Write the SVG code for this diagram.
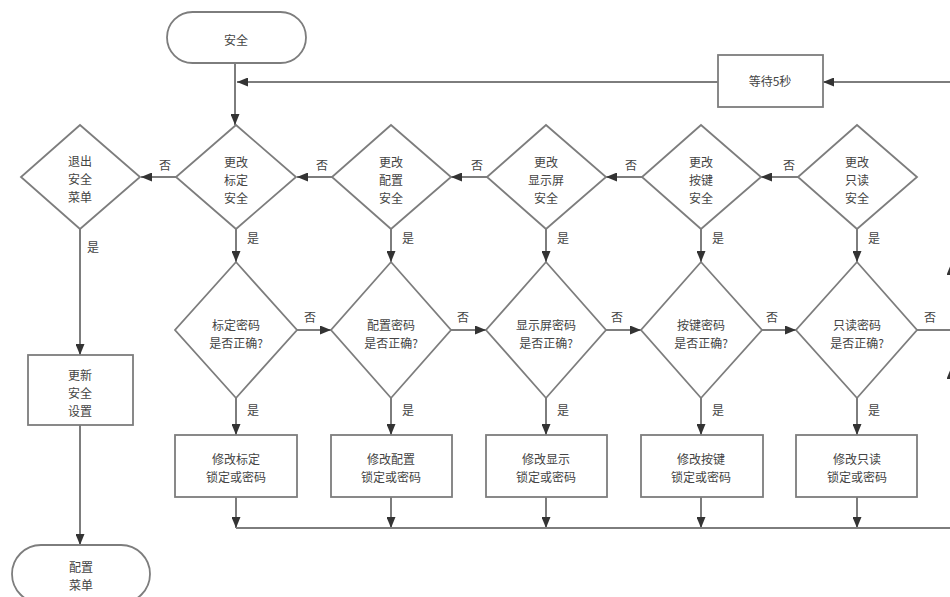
<svg xmlns="http://www.w3.org/2000/svg" width="950" height="597" viewBox="0 0 950 597">
<defs>
<marker id="arr" markerUnits="userSpaceOnUse" markerWidth="11" markerHeight="9" refX="11" refY="4.5" orient="auto">
<path d="M0,0 L11,4.5 L0,9 z" fill="#333"/>
</marker>
<style>
.n{fill:#fff;stroke:#7d7d7d;stroke-width:1.8}
.c{fill:none;stroke:#7d7d7d;stroke-width:2;marker-end:url(#arr)}
.p{fill:none;stroke:#7d7d7d;stroke-width:2}
text{font-family:"Noto Sans CJK SC","Noto Sans",sans-serif;font-size:12px;fill:#444;text-anchor:middle}
</style>
</defs>
<rect width="950" height="597" fill="#fff"/>

<g id="connectors">
<path class="c" d="M235,63 V125"/>
<path class="c" d="M718,82 H237"/>
<path class="c" d="M80,229 V355"/>
<path class="c" d="M80,425 V545"/>
<path class="c" d="M176,177 H141"/>
<path class="c" d="M332,177 H297"/>
<path class="c" d="M487,177 H451"/>
<path class="c" d="M642,177 H606"/>
<path class="c" d="M798,177 H761"/>
<path class="c" d="M236,229 V262"/>
<path class="c" d="M391,229 V262"/>
<path class="c" d="M546,229 V262"/>
<path class="c" d="M701,229 V262"/>
<path class="c" d="M857,229 V262"/>
<path class="c" d="M297,330 H331"/>
<path class="c" d="M451,330 H486"/>
<path class="c" d="M606,330 H641"/>
<path class="c" d="M762,330 H796"/>
<path class="c" d="M236,398 V435"/>
<path class="c" d="M391,398 V435"/>
<path class="c" d="M546,398 V435"/>
<path class="c" d="M701,398 V435"/>
<path class="c" d="M857,398 V435"/>
<path class="c" d="M236,497 V528"/>
<path class="c" d="M391,497 V528"/>
<path class="c" d="M546,497 V528"/>
<path class="c" d="M701,497 V528"/>
<path class="c" d="M857,497 V528"/>
<path class="c" d="M236,528 H951 V368"/>
<path class="p" d="M951,368 V330"/>
<path class="c" d="M917,330 H951 V264"/>
<path class="c" d="M951,264 V82 H823"/>
</g>

<g id="labels">
<text x="165" y="170">否</text>
<text x="322" y="170">否</text>
<text x="477" y="170">否</text>
<text x="631" y="170">否</text>
<text x="789" y="170">否</text>
<text x="253" y="243">是</text>
<text x="408" y="243">是</text>
<text x="563" y="243">是</text>
<text x="718" y="243">是</text>
<text x="874" y="243">是</text>
<text x="93" y="252">是</text>
<text x="310" y="322">否</text>
<text x="463" y="322">否</text>
<text x="617" y="322">否</text>
<text x="772" y="322">否</text>
<text x="930" y="322">否</text>
<text x="253" y="415">是</text>
<text x="408" y="415">是</text>
<text x="563" y="415">是</text>
<text x="718" y="415">是</text>
<text x="874" y="415">是</text>
</g>

<g id="start"><rect class="n" x="167" y="12" width="139" height="51" rx="25.5"/><text x="236" y="45">安全</text></g>
<g id="wait"><rect class="n" x="718" y="55" width="105" height="52"/><text x="770" y="86">等待5秒</text></g>

<g id="exit"><polygon class="n" points="80,125 140,177 80,229 21,177"/><text x="80" y="166">退出</text><text x="80" y="184">安全</text><text x="80" y="202">菜单</text></g>
<g id="chg-cal"><polygon class="n" points="236,125 296,177 236,229 176,177"/><text x="236" y="167">更改</text><text x="236" y="185">标定</text><text x="236" y="203">安全</text></g>
<g id="chg-cfg"><polygon class="n" points="391,125 451,177 391,229 332,177"/><text x="391" y="167">更改</text><text x="391" y="185">配置</text><text x="391" y="203">安全</text></g>
<g id="chg-disp"><polygon class="n" points="546,125 606,177 546,229 487,177"/><text x="546" y="167">更改</text><text x="546" y="185">显示屏</text><text x="546" y="203">安全</text></g>
<g id="chg-key"><polygon class="n" points="701,125 761,177 701,229 642,177"/><text x="701" y="167">更改</text><text x="701" y="185">按键</text><text x="701" y="203">安全</text></g>
<g id="chg-ro"><polygon class="n" points="857,125 917,177 857,229 798,177"/><text x="857" y="167">更改</text><text x="857" y="185">只读</text><text x="857" y="203">安全</text></g>

<g id="pw-cal"><polygon class="n" points="236,262 297,330 236,398 175,330"/><text x="236" y="330">标定密码</text><text x="236" y="348">是否正确?</text></g>
<g id="pw-cfg"><polygon class="n" points="391,262 451,330 391,398 331,330"/><text x="391" y="330">配置密码</text><text x="391" y="348">是否正确?</text></g>
<g id="pw-disp"><polygon class="n" points="546,262 606,330 546,398 486,330"/><text x="546" y="330">显示屏密码</text><text x="546" y="348">是否正确?</text></g>
<g id="pw-key"><polygon class="n" points="701,262 762,330 701,398 641,330"/><text x="701" y="330">按键密码</text><text x="701" y="348">是否正确?</text></g>
<g id="pw-ro"><polygon class="n" points="857,262 917,330 857,398 796,330"/><text x="857" y="330">只读密码</text><text x="857" y="348">是否正确?</text></g>

<g id="mod-cal"><rect class="n" x="175" y="435" width="122" height="62"/><text x="236" y="464">修改标定</text><text x="236" y="482">锁定或密码</text></g>
<g id="mod-cfg"><rect class="n" x="331" y="435" width="121" height="62"/><text x="391" y="464">修改配置</text><text x="391" y="482">锁定或密码</text></g>
<g id="mod-disp"><rect class="n" x="486" y="435" width="121" height="62"/><text x="546" y="464">修改显示</text><text x="546" y="482">锁定或密码</text></g>
<g id="mod-key"><rect class="n" x="641" y="435" width="122" height="62"/><text x="701" y="464">修改按键</text><text x="701" y="482">锁定或密码</text></g>
<g id="mod-ro"><rect class="n" x="796" y="435" width="121" height="62"/><text x="857" y="464">修改只读</text><text x="857" y="482">锁定或密码</text></g>

<g id="update"><rect class="n" x="28" y="355" width="105" height="70"/><text x="80" y="380">更新</text><text x="80" y="398">安全</text><text x="80" y="416">设置</text></g>
<g id="cfg-menu"><rect class="n" x="12" y="545" width="138" height="58" rx="29"/><text x="81" y="572">配置</text><text x="81" y="590">菜单</text></g>
</svg>
